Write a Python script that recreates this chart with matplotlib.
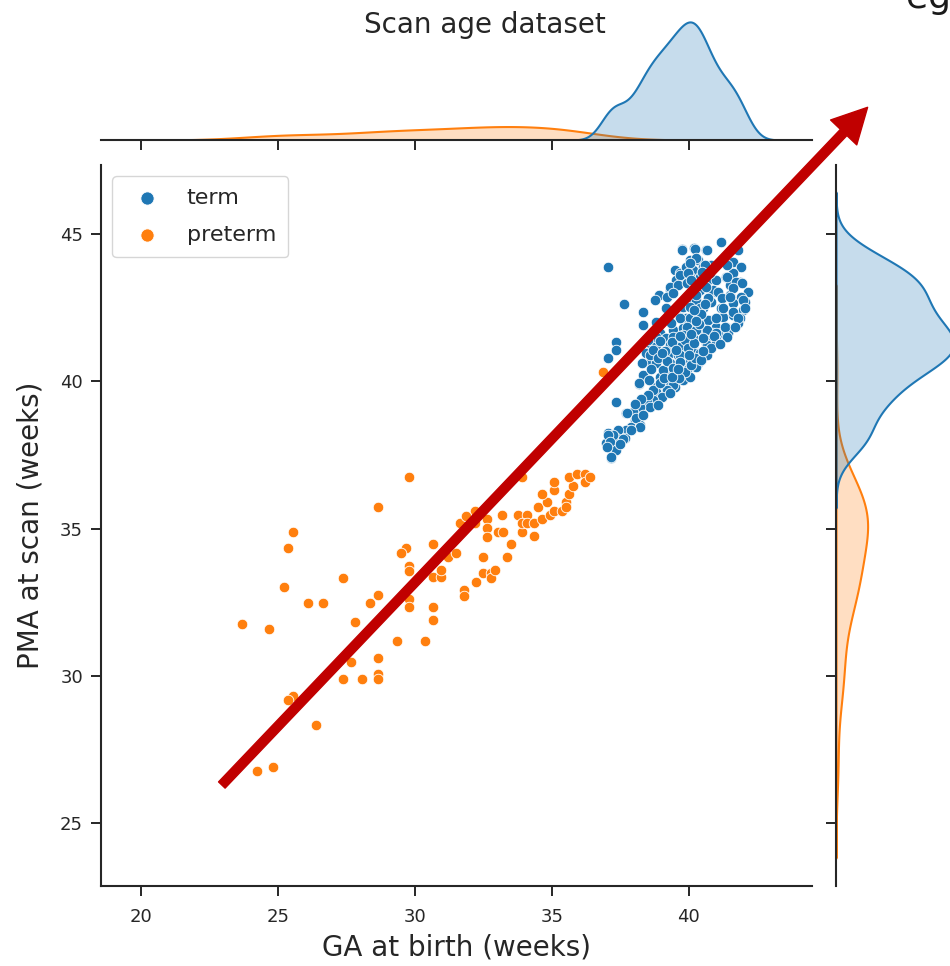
import matplotlib
matplotlib.use('Agg')
import matplotlib.pyplot as plt
import pandas as pd
import seaborn as sns

# --- data (weeks) ---
term_ga = [
    37.05, 37.63, 39.77, 40.19, 40.64, 41.17, 41.80, 40.34, 40.03,
    39.49, 39.67, 39.91, 40.16, 40.52, 40.83, 41.37, 41.62, 41.92, 41.62,
    39.55, 39.79, 40.03, 40.40, 40.70, 41.01, 41.37, 41.86, 41.49,
    38.92, 38.76, 39.30, 40.40, 41.01, 41.49, 42.16, 41.92,
    39.18, 39.91, 40.16, 40.52, 40.83, 41.19, 41.62, 42.04, 41.98,
    38.33, 39.67, 39.91, 40.40, 40.76, 41.25, 41.62, 41.86, 41.80, 41.37, 41.01,
    38.33, 38.82, 38.94, 39.43, 39.79, 40.16, 40.52, 40.89, 41.19, 41.43, 39.18,
    37.33, 37.33, 38.57, 38.82, 39.30, 39.73, 40.16, 40.64, 41.01,
    38.45, 38.70, 38.94, 39.30, 39.61, 39.97, 40.28, 40.64,
    37.05, 38.57, 38.82, 39.30, 39.55, 39.91, 40.28, 39.18, 39.55,
    38.36, 38.19, 38.94, 39.30, 39.79, 38.82, 39.18, 39.49,
    38.57, 38.94, 39.18, 38.45, 38.70, 38.33, 38.09, 37.72,
    37.33, 38.03, 37.91, 38.21, 37.72, 37.66, 37.42, 37.05, 36.99, 37.11, 37.24, 37.36, 37.18,
    39.74, 40.22, 40.65, 40.28, 40.04, 40.59, 41.38,
    39.67, 39.98, 40.40, 40.77, 41.38, 41.74, 41.93,
    39.31, 39.61, 39.92, 40.16, 40.89, 41.07, 41.62,
    39.19, 39.43, 40.28, 40.71, 41.20, 41.50, 41.99,
    39.80, 40.04, 40.40, 41.26, 41.62, 42.05,
    39.67, 40.04, 40.34, 40.71, 41.01, 41.80,
    38.82, 39.37, 39.92, 40.28, 40.65, 41.01, 41.32, 41.68,
    38.82, 39.43, 39.80, 40.16, 40.65, 41.01, 41.38,
    39.67, 40.16, 40.65, 41.01, 38.58, 39.31, 39.67, 40.04, 40.34, 40.65,
    39.25, 39.55, 39.92, 40.28, 38.34, 38.19, 39.80, 40.04, 39.43,
    39.19, 38.82, 39.01, 39.31, 38.70, 38.46, 38.58, 38.88,
    38.21, 37.97, 37.73, 38.09, 38.34, 38.21, 37.91, 37.61,
    37.24, 37.06, 37.12, 37.36, 37.18, 37.00, 37.48,
    38.50, 38.71, 38.95, 39.12, 39.38, 39.52, 39.85, 39.99, 40.21, 40.40, 40.52, 40.80, 40.93, 41.15, 39.70, 40.07,
    38.62, 38.88, 39.05, 39.22, 39.44, 39.68, 39.86, 40.10, 40.22, 40.44, 39.02, 38.30, 38.55, 39.63, 40.02, 40.52,
    40.25, 40.33, 40.45, 40.58, 40.18, 40.38, 40.62, 40.10, 40.50, 40.28,
    38.70, 38.95, 39.10, 38.52, 39.40, 38.25, 39.60, 38.05,
]
term_pma = [
    43.89, 42.63, 44.48, 44.52, 44.46, 44.74, 44.46, 44.14, 44.12,
    43.78, 43.69, 43.89, 43.78, 43.89, 43.95, 44.01, 44.06, 43.89, 43.67,
    43.44, 43.44, 43.56, 43.44, 43.44, 43.44, 43.56, 43.39, 43.27,
    42.93, 42.76, 43.10, 43.10, 43.05, 42.93, 43.05, 42.88,
    42.48, 42.65, 42.76, 42.48, 42.71, 42.48, 42.65, 42.71, 42.42,
    42.36, 42.20, 42.14, 42.06, 42.08, 42.20, 42.25, 42.14, 41.97, 41.86, 41.86,
    41.91, 41.74, 41.63, 41.74, 41.80, 41.80, 41.69, 41.63, 41.63, 41.63, 41.46,
    41.34, 41.07, 41.29, 41.24, 41.24, 41.24, 41.18, 41.29, 41.40,
    40.95, 40.90, 40.84, 40.95, 40.90, 40.95, 40.95, 40.95,
    40.78, 40.61, 40.61, 40.61, 40.50, 40.56, 40.61, 40.39, 40.27,
    40.18, 39.91, 40.16, 39.99, 40.05, 39.82, 39.71, 39.82,
    39.48, 39.48, 39.59, 39.25, 39.25, 38.97, 39.03, 38.91,
    39.31, 38.69, 38.46, 38.52, 38.35, 38.07, 38.35, 38.24, 37.90, 37.78, 37.61, 38.07, 37.39,
    44.46, 44.48, 44.46, 44.18, 44.01, 43.95, 43.95,
    43.61, 43.67, 43.56, 43.67, 43.56, 43.39, 43.33,
    43.22, 43.27, 43.33, 43.10, 43.10, 43.05, 43.16,
    42.88, 42.99, 42.76, 42.82, 42.82, 42.88, 42.76,
    42.54, 42.54, 42.48, 42.48, 42.37, 42.48,
    42.14, 42.14, 42.14, 42.08, 42.17, 42.14,
    42.03, 41.97, 41.86, 41.74, 41.74, 41.63, 41.86, 41.86,
    41.52, 41.52, 41.57, 41.46, 41.40, 41.40, 41.52,
    41.17, 41.00, 41.23, 41.29, 40.89, 40.61, 40.89, 40.72, 40.61, 40.89,
    40.32, 40.27, 40.38, 40.49, 40.21, 39.93, 40.04, 40.15, 39.87,
    39.70, 39.65, 39.48, 39.59, 39.36, 39.31, 39.14, 39.19,
    39.14, 38.97, 38.91, 38.74, 38.85, 38.46, 38.34, 38.06,
    38.17, 38.17, 37.95, 37.66, 37.44, 37.78, 37.89,
    41.42, 41.08, 41.37, 41.02, 41.33, 41.07, 41.41, 41.12, 41.30, 40.98, 41.47, 41.12, 41.55, 41.28, 41.55, 41.62,
    40.42, 40.78, 40.37, 40.70, 40.44, 40.66, 40.33, 40.56, 40.80, 40.72, 40.95, 40.62, 40.05, 40.10, 40.90, 41.02,
    42.95, 43.30, 42.30, 42.62, 42.42, 41.95, 43.20, 43.45, 43.70, 42.05,
    39.72, 39.95, 40.12, 39.55, 40.15, 39.40, 40.42, 39.22,
]
preterm_ga = [
    29.79, 28.66, 25.54, 25.39, 25.24, 27.37, 26.11, 26.67, 28.66, 28.37,
    23.69, 24.68, 29.67, 29.51, 30.65, 29.79, 29.79, 29.79, 29.79, 30.65,
    30.65, 29.37, 30.36, 28.66, 27.68, 27.37, 28.09, 28.66, 28.66, 25.54,
    25.39, 26.39, 24.24, 24.83, 30.65, 30.96, 30.96, 31.23, 31.50, 31.64,
    32.20, 32.20, 32.64, 32.64, 32.64, 33.05, 33.22, 33.20, 33.50, 32.49,
    33.37, 31.80, 31.80, 32.23, 32.49, 32.80, 32.80, 32.93, 33.77, 34.08,
    33.93, 34.35, 33.93, 34.08, 34.35, 34.50, 34.64, 34.81, 34.66, 34.93,
    35.07, 35.36, 35.51, 35.51, 35.07, 35.07, 35.63, 35.78, 35.63, 35.92,
    36.20, 36.20, 36.41, 33.93, 36.87, 31.86, 27.81,
]
preterm_pma = [
    36.74, 35.74, 34.89, 34.33, 33.02, 33.32, 32.46, 32.46, 32.74, 32.46,
    31.75, 31.59, 34.33, 34.16, 34.46, 33.74, 33.57, 32.60, 32.32, 32.32,
    31.89, 31.18, 31.18, 30.61, 30.46, 29.89, 29.89, 30.06, 29.88, 29.32,
    29.18, 28.33, 26.77, 26.89, 33.34, 33.34, 33.61, 34.04, 34.16, 35.18,
    35.60, 35.18, 35.32, 35.03, 34.72, 34.89, 34.89, 35.46, 34.46, 34.04,
    34.04, 32.91, 32.72, 33.17, 33.48, 33.48, 33.31, 33.61, 35.46, 35.46,
    34.89, 34.75, 35.18, 35.18, 35.18, 35.74, 35.32, 35.91, 36.17, 35.46,
    35.60, 35.60, 35.89, 35.74, 36.31, 36.59, 36.17, 36.45, 36.74, 36.87,
    36.87, 36.59, 36.74, 36.74, 40.32, 35.42, 31.83,
]

groups = ['term', 'preterm']
palette = {'term': '#1f77b4', 'preterm': '#ff7f0e'}
x_ticks = [20, 25, 30, 35, 40]
y_ticks = [25, 30, 35, 40, 45]

# arrow drawn over the chart (tail, tip) in data units
arrow_tail = (22.96, 26.29)
arrow_tip = (46.53, 49.31)

df = pd.DataFrame({
    'ga': term_ga + preterm_ga,
    'pma': term_pma + preterm_pma,
    'group': ['term'] * len(term_ga) + ['preterm'] * len(preterm_ga),
})

sns.set_style('ticks')
plt.rcParams['font.family'] = ['DejaVu Sans']
plt.rcParams['axes.linewidth'] = 1.5
plt.rcParams['xtick.major.width'] = 1.4
plt.rcParams['ytick.major.width'] = 1.4
plt.rcParams['xtick.major.size'] = 7
plt.rcParams['ytick.major.size'] = 7

W, H = 950, 966
fig = plt.figure(figsize=(W / 100, H / 100), dpi=100)


def add_px_axes(left, top, right, bottom, **kw):
    return fig.add_axes([left / W, 1 - bottom / H, (right - left) / W, (bottom - top) / H], **kw)


ax = add_px_axes(101, 165, 812, 886)
ax_top = add_px_axes(101, 16, 812, 140, sharex=ax)
ax_right = add_px_axes(836, 165, 960, 886, sharey=ax)

# --- joint scatter ---
for g in groups:
    sub = df[df['group'] == g]
    ax.scatter(sub['ga'], sub['pma'], s=58, color=palette[g], edgecolor='white',
               linewidth=0.6, label=g, zorder=3)

# --- marginal KDEs ---
sns.kdeplot(data=df, x='ga', hue='group', hue_order=groups, palette=palette,
            fill=True, common_norm=True, legend=False, linewidth=1.5, ax=ax_top)
sns.kdeplot(data=df, y='pma', hue='group', hue_order=groups, palette=palette,
            fill=True, common_norm=True, legend=False, linewidth=1.5, ax=ax_right)

ax.set_xlim(18.55, 44.5)
ax.set_ylim(22.86, 47.35)
ax.set_xticks(x_ticks)
ax.set_yticks(y_ticks)
ax.tick_params(axis='x', labelsize=13, colors='.15', pad=9)
ax.tick_params(axis='y', labelsize=13, colors='.15', pad=6)
ax.set_xlabel('GA at birth (weeks)', fontsize=20, color='.15', labelpad=5)
ax.set_ylabel('PMA at scan (weeks)', fontsize=20, color='.15', labelpad=11)
sns.despine(ax=ax)

ax_top.set_xlabel('')
ax_top.set_ylabel('')
ax_top.tick_params(labelbottom=False, left=False, labelleft=False)
sns.despine(ax=ax_top, left=True)
ax_top.set_facecolor('none')

ax_right.set_xlabel('')
ax_right.set_ylabel('')
ax_right.tick_params(labelleft=False, bottom=False, labelbottom=False)
sns.despine(ax=ax_right, bottom=True)
ax_right.set_facecolor('none')

ax.legend(loc='upper left', fontsize=16, markerscale=1.25, labelspacing=0.75,
          borderpad=0.55)

fig.text(485 / W, 1 - 33 / H, 'Scan age dataset', ha='center', va='baseline',
         fontsize=20, color='.15')
fig.text(906 / W, 1 - 8 / H, 'eg', ha='left', va='baseline', fontsize=26, color='#1a1a1a')

ax.annotate('', xy=arrow_tip, xytext=arrow_tail, xycoords='data',
            arrowprops=dict(color='#c00000', width=6.5, headwidth=26, headlength=25,
                            shrink=0),
            annotation_clip=False, zorder=10)

fig.savefig('out.png', dpi=100)
